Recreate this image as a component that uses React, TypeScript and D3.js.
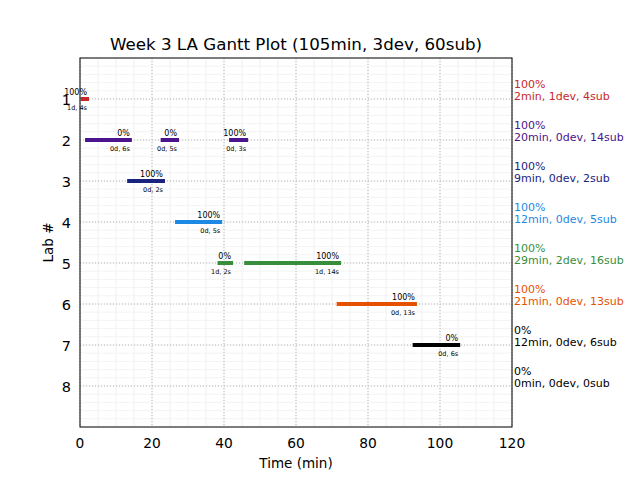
import React from "react";
import * as d3 from "d3";

const title = "Week 3 LA Gantt Plot (105min, 3dev, 60sub)";
const labs = [1, 2, 3, 4, 5, 6, 7, 8];
const labColors = ["#c62828", "#4a148c", "#1a237e", "#1e88e5", "#388e3c", "#e65100", "#000000", "#000000"];
const labPct = ["100%", "100%", "100%", "100%", "100%", "100%", "0%", "0%"];
const labSummary = [
  "2min, 1dev, 4sub",
  "20min, 0dev, 14sub",
  "9min, 0dev, 2sub",
  "12min, 0dev, 5sub",
  "29min, 2dev, 16sub",
  "21min, 0dev, 13sub",
  "12min, 0dev, 6sub",
  "0min, 0dev, 0sub",
];
const barLab = [1, 2, 2, 2, 3, 4, 5, 5, 6, 7];
const barStart = [0.2, 1.4, 22.4, 41.4, 13.1, 26.4, 38.2, 45.6, 71.3, 92.4];
const barEnd = [2.5, 14.4, 27.5, 46.7, 23.6, 39.5, 42.5, 72.5, 93.6, 105.6];
const barPct = ["100%", "0%", "0%", "100%", "100%", "100%", "0%", "100%", "100%", "0%"];
const barSub = ["1d, 4s", "0d, 6s", "0d, 5s", "0d, 3s", "0d, 2s", "0d, 5s", "1d, 2s", "1d, 14s", "0d, 13s", "0d, 6s"];
const xTicks = [0, 20, 40, 60, 80, 100, 120];

export default function App() {
  const W = 640, H = 480;
  const L = 80, R = 512, T = 58, B = 427;
  const x = d3.scaleLinear().domain([0, 120]).range([L, R]);
  const y = d3.scaleLinear().domain([0, 9]).range([T, B]);
  const font = "DejaVu Sans, sans-serif";
  const xMinor = d3.range(0, 120.001, 5);
  const yMinor = d3.range(0, 9.001, 0.2);
  return (
    <svg width={W} height={H} style={{ position: "absolute", left: 0, top: 0, background: "#fff" }} fontFamily={font}>
      <rect x={0} y={0} width={W} height={H} fill="#fff" />
      <rect x={L} y={T} width={R - L} height={B - T} fill="#fff" />
      {xMinor.map((v, i) => (
        <line key={"xm" + i} x1={x(v)} x2={x(v)} y1={T} y2={B} stroke="#f0f0f0" strokeWidth={1} />
      ))}
      {yMinor.map((v, i) => (
        <line key={"ym" + i} x1={L} x2={R} y1={y(v)} y2={y(v)} stroke="#f3f3f3" strokeWidth={1} />
      ))}
      {xTicks.map((v) => (
        <line key={"xg" + v} x1={x(v)} x2={x(v)} y1={T} y2={B} stroke="#b8b8b8" strokeWidth={1} strokeDasharray="1,2" />
      ))}
      {labs.map((v) => (
        <line key={"yg" + v} x1={L} x2={R} y1={y(v)} y2={y(v)} stroke="#b8b8b8" strokeWidth={1} strokeDasharray="1,2" />
      ))}
      {barLab.map((lab, i) => {
        const c = labColors[lab - 1];
        const yy = y(lab);
        const xe = x(barEnd[i]);
        return (
          <g key={"b" + i}>
            <rect x={x(barStart[i])} y={yy - 2} width={x(barEnd[i]) - x(barStart[i])} height={4} fill={c} />
            <text x={xe - 2} y={yy - 4.5} fontSize={8} textAnchor="end" fill="#000">{barPct[i]}</text>
            <text x={xe - 2} y={yy + 11} fontSize={6.5} textAnchor="end" fill="#000">{barSub[i]}</text>
          </g>
        );
      })}
      <rect x={L} y={T} width={R - L} height={B - T} fill="none" stroke="#000" strokeWidth={1} />
      {labs.map((v) => (
        <text key={"yl" + v} x={L - 9} y={y(v) + 5.5} fontSize={14.5} textAnchor="end" fill="#000">{v}</text>
      ))}
      {xTicks.map((v) => (
        <text key={"xl" + v} x={x(v)} y={B + 21} fontSize={13.8} textAnchor="middle" fill="#000">{v}</text>
      ))}
      {labs.map((v, i) => (
        <g key={"rl" + v} fill={labColors[i]} fontSize={11}>
          <text x={R + 2} y={y(v) - 11}>{labPct[i]}</text>
          <text x={R + 2} y={y(v) + 0.5}>{labSummary[i]}</text>
        </g>
      ))}
      <text x={(L + R) / 2} y={50} fontSize={16.7} textAnchor="middle" fill="#000">{title}</text>
      <text x={(L + R) / 2} y={468} fontSize={13.5} textAnchor="middle" fill="#000">Time (min)</text>
      <text transform={`translate(53, ${(T + B) / 2}) rotate(-90)`} fontSize={13.5} textAnchor="middle" fill="#000">Lab #</text>
    </svg>
  );
}
